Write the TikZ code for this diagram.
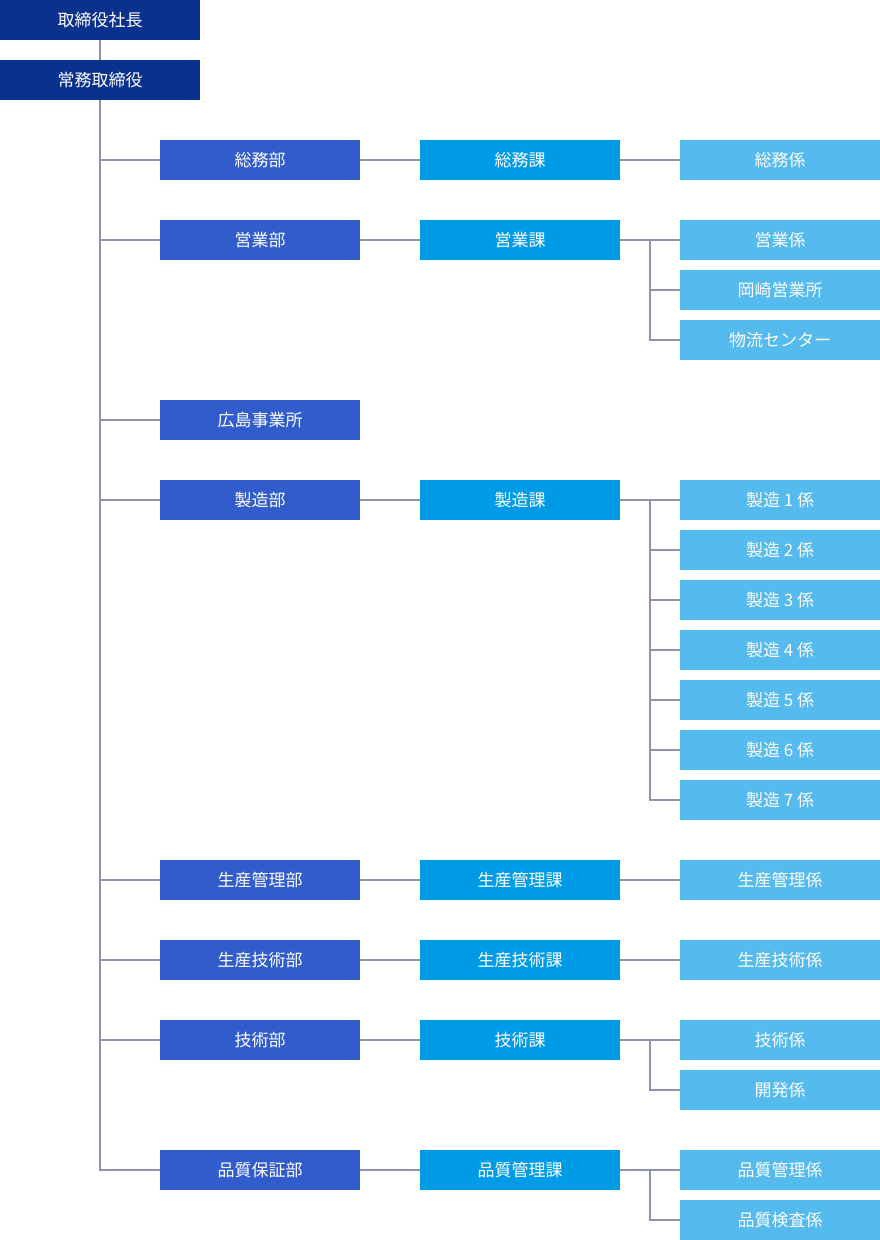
\documentclass[tikz,border=0pt]{standalone}
\usepackage{fontspec}
\newfontfamily\jp{Noto Sans CJK JP}
\definecolor{cTop}{HTML}{0B318F}
\definecolor{cA}{HTML}{315CCB}
\definecolor{cB}{HTML}{009BE6}
\definecolor{cC}{HTML}{55BAEE}
\definecolor{cLine}{HTML}{8E92AE}
\begin{document}
\begin{tikzpicture}[x=1pt,y=-1pt,
  box/.style={minimum width=200pt,minimum height=40pt,inner sep=0pt,text=white,font=\jp\fontsize{17pt}{20pt}\selectfont,anchor=north west},
  top/.style={box,fill=cTop},
  lva/.style={box,fill=cA},
  lvb/.style={box,fill=cB},
  lvc/.style={box,fill=cC},
  conn/.style={draw=cLine,line width=1.5pt}]
\useasboundingbox (0,0) rectangle (880,1240);
% nodes
\node[top] (ceo) at (0,0) {取締役社長};
\node[top] (exec) at (0,60) {常務取締役};
\node[lva] (a1) at (160,140) {総務部};
\node[lvb] (b1) at (420,140) {総務課};
\node[lvc] (c1) at (680,140) {総務係};
\node[lva] (a2) at (160,220) {営業部};
\node[lvb] (b2) at (420,220) {営業課};
\node[lvc] (c21) at (680,220) {営業係};
\node[lvc] (c22) at (680,270) {岡崎営業所};
\node[lvc] (c23) at (680,320) {物流センター};
\node[lva] (a3) at (160,400) {広島事業所};
\node[lva] (a4) at (160,480) {製造部};
\node[lvb] (b4) at (420,480) {製造課};
\node[lvc] (c41) at (680,480) {製造 1 係};
\node[lvc] (c42) at (680,530) {製造 2 係};
\node[lvc] (c43) at (680,580) {製造 3 係};
\node[lvc] (c44) at (680,630) {製造 4 係};
\node[lvc] (c45) at (680,680) {製造 5 係};
\node[lvc] (c46) at (680,730) {製造 6 係};
\node[lvc] (c47) at (680,780) {製造 7 係};
\node[lva] (a5) at (160,860) {生産管理部};
\node[lvb] (b5) at (420,860) {生産管理課};
\node[lvc] (c5) at (680,860) {生産管理係};
\node[lva] (a6) at (160,940) {生産技術部};
\node[lvb] (b6) at (420,940) {生産技術課};
\node[lvc] (c6) at (680,940) {生産技術係};
\node[lva] (a7) at (160,1020) {技術部};
\node[lvb] (b7) at (420,1020) {技術課};
\node[lvc] (c71) at (680,1020) {技術係};
\node[lvc] (c72) at (680,1070) {開発係};
\node[lva] (a8) at (160,1150) {品質保証部};
\node[lvb] (b8) at (420,1150) {品質管理課};
\node[lvc] (c81) at (680,1150) {品質管理係};
\node[lvc] (c82) at (680,1200) {品質検査係};
% connectors
\draw[conn] (ceo) -- (exec);
\foreach \n in {a1,a2,a3,a4,a5,a6,a7,a8} \draw[conn] (exec.south) |- (\n.west);
\foreach \p/\q in {a1/b1,b1/c1,a2/b2,b2/c21,a4/b4,b4/c41,a5/b5,b5/c5,a6/b6,b6/c6,a7/b7,b7/c71,a8/b8,b8/c81} \draw[conn] (\p) -- (\q);
\coordinate (j2) at (650,240);
\coordinate (j4) at (650,500);
\coordinate (j7) at (650,1040);
\coordinate (j8) at (650,1170);
\foreach \n in {c22,c23} \draw[conn] (j2) |- (\n.west);
\foreach \n in {c42,c43,c44,c45,c46,c47} \draw[conn] (j4) |- (\n.west);
\draw[conn] (j7) |- (c72.west);
\draw[conn] (j8) |- (c82.west);
\end{tikzpicture}
\end{document}
